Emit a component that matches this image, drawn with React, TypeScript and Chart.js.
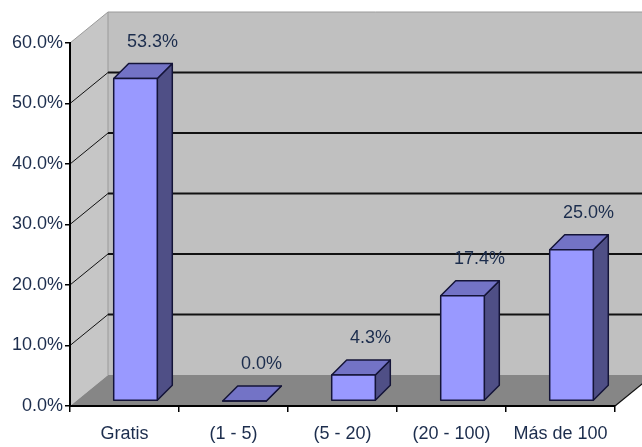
import React, { useEffect, useRef } from "react";
import { Chart, registerables } from "chart.js";

Chart.register(...registerables);

const categories = ["Gratis", "(1 - 5)", "(5 - 20)", "(20 - 100)", "Más de 100"];
const values = [53.3, 0.0, 4.3, 17.4, 25.0];
const yTicks = [0, 10, 20, 30, 40, 50, 60];

const FONT = "'Liberation Sans', Arial, sans-serif";
const TEXT = "#1c2d4d";
const WALL_DX = 38;
const WALL_DY = -31;
const BAR_OX = 11;
const BAR_OY = -5;
const BAR_DX = 15;
const BAR_DY = -15;

const box3d = {
  id: "box3d",
  beforeDraw(chart: any) {
    const { ctx, chartArea } = chart;
    const { left, right, top, bottom } = chartArea;
    const y = chart.scales.y;
    ctx.save();
    ctx.fillStyle = "#c0c0c0";
    ctx.fillRect(left + WALL_DX, top + WALL_DY, right - left, bottom - top);
    ctx.fillStyle = "#c6c6c6";
    ctx.beginPath();
    ctx.moveTo(left, top);
    ctx.lineTo(left + WALL_DX, top + WALL_DY);
    ctx.lineTo(left + WALL_DX, bottom + WALL_DY);
    ctx.lineTo(left, bottom);
    ctx.closePath();
    ctx.fill();
    ctx.strokeStyle = "#9a9a9a";
    ctx.lineWidth = 1;
    ctx.beginPath();
    ctx.moveTo(left, top);
    ctx.lineTo(left + WALL_DX, top + WALL_DY);
    ctx.lineTo(right + WALL_DX, top + WALL_DY);
    ctx.moveTo(left + WALL_DX, top + WALL_DY);
    ctx.lineTo(left + WALL_DX, bottom + WALL_DY);
    ctx.stroke();
    ctx.fillStyle = "#868686";
    ctx.beginPath();
    ctx.moveTo(left, bottom);
    ctx.lineTo(left + WALL_DX, bottom + WALL_DY);
    ctx.lineTo(right + WALL_DX, bottom + WALL_DY);
    ctx.lineTo(right, bottom);
    ctx.closePath();
    ctx.fill();
    ctx.strokeStyle = "#111";
    ctx.lineWidth = 1.2;
    ctx.beginPath();
    ctx.moveTo(right, bottom);
    ctx.lineTo(right + WALL_DX, bottom + WALL_DY);
    ctx.stroke();
    yTicks.forEach((v) => {
      if (v === 0 || v === 60) return;
      const py = y.getPixelForValue(v);
      ctx.strokeStyle = "#111";
      ctx.lineWidth = 2;
      ctx.beginPath();
      ctx.moveTo(left + WALL_DX, py + WALL_DY);
      ctx.lineTo(right + WALL_DX, py + WALL_DY);
      ctx.stroke();
      ctx.lineWidth = 1;
      ctx.beginPath();
      ctx.moveTo(left, py);
      ctx.lineTo(left + WALL_DX, py + WALL_DY);
      ctx.stroke();
    });
    ctx.restore();
  },
  afterDatasetsDraw(chart: any) {
    const { ctx } = chart;
    const meta = chart.getDatasetMeta(0);
    ctx.save();
    ctx.lineJoin = "round";
    meta.data.forEach((el: any, i: number) => {
      const w = el.width;
      const l = el.x - w / 2 + BAR_OX;
      const r = el.x + w / 2 + BAR_OX;
      const t = el.y + BAR_OY;
      const b = el.base + BAR_OY;
      ctx.strokeStyle = "#141438";
      ctx.lineWidth = 1.5;
      ctx.fillStyle = "#4f4f86";
      ctx.beginPath();
      ctx.moveTo(r, t);
      ctx.lineTo(r + BAR_DX, t + BAR_DY);
      ctx.lineTo(r + BAR_DX, b + BAR_DY);
      ctx.lineTo(r, b);
      ctx.closePath();
      ctx.fill();
      ctx.stroke();
      ctx.fillStyle = "#7373c6";
      ctx.beginPath();
      ctx.moveTo(l, t);
      ctx.lineTo(l + BAR_DX, t + BAR_DY);
      ctx.lineTo(r + BAR_DX, t + BAR_DY);
      ctx.lineTo(r, t);
      ctx.closePath();
      ctx.fill();
      ctx.stroke();
      ctx.fillStyle = "#9999ff";
      ctx.beginPath();
      ctx.rect(l, t, r - l, b - t);
      ctx.fill();
      ctx.stroke();
      ctx.fillStyle = TEXT;
      ctx.font = `18px ${FONT}`;
      ctx.textAlign = "center";
      ctx.textBaseline = "middle";
      ctx.fillText(values[i].toFixed(1) + "%", (l + r) / 2 + 17, t - 37);
    });
    ctx.restore();
  },
};

export default function App() {
  const ref = useRef<HTMLCanvasElement>(null);
  useEffect(() => {
    if (!ref.current) return;
    const chart = new Chart(ref.current, {
      type: "bar",
      data: {
        labels: categories,
        datasets: [
          {
            data: values,
            backgroundColor: "rgba(0,0,0,0)",
            borderWidth: 0,
            barPercentage: 0.4,
            categoryPercentage: 1,
          },
        ],
      },
      options: {
        animation: false,
        responsive: false,
        devicePixelRatio: 1,
        layout: { padding: { left: 0, right: 27, top: 43, bottom: 0 } },
        plugins: { legend: { display: false }, tooltip: { enabled: false } },
        scales: {
          y: {
            min: 0,
            max: 60,
            afterFit: (s: any) => {
              s.width = 70;
            },
            afterBuildTicks: (s: any) => {
              s.ticks = yTicks.map((v) => ({ value: v }));
            },
            ticks: {
              callback: (v: any) => Number(v).toFixed(1) + "%",
              font: { family: FONT, size: 18 },
              color: TEXT,
              padding: 2,
            },
            grid: { drawOnChartArea: false, drawTicks: true, tickLength: 5, color: "#000", lineWidth: 1.5 },
            border: { display: true, color: "#000", width: 2 },
          },
          x: {
            afterFit: (s: any) => {
              s.height = 41;
            },
            ticks: {
              font: { family: FONT, size: 18 },
              color: TEXT,
              padding: 11,
              maxRotation: 0,
              autoSkip: false,
            },
            grid: { offset: true, drawOnChartArea: false, drawTicks: true, tickLength: 6, color: "#000", lineWidth: 1.5 },
            border: { display: true, color: "#000", width: 2 },
          },
        },
      },
      plugins: [box3d],
    });
    return () => chart.destroy();
  }, []);
  return (
    <div style={{ position: "absolute", left: 0, top: 0, width: 642, height: 447, background: "#fff" }}>
      <canvas ref={ref} width={642} height={447} style={{ width: 642, height: 447 }} />
    </div>
  );
}
